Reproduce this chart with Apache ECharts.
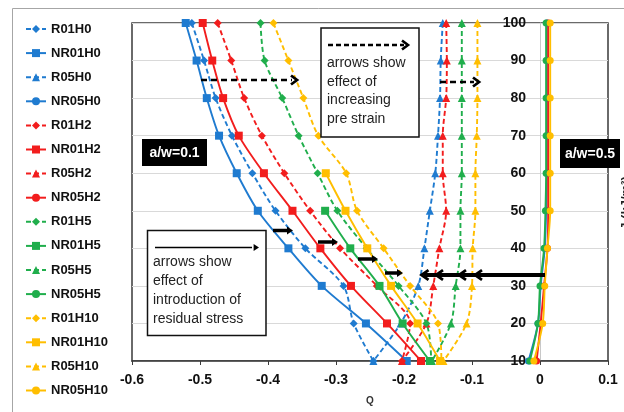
<!DOCTYPE html>
<html><head><meta charset="utf-8">
<script src="https://cdn.jsdelivr.net/npm/echarts@6/dist/echarts.min.js"></script>
<style>html,body{margin:0;padding:0;background:#fff}#c{width:624px;height:412px}</style>
</head><body><div id="c"></div>
<script>
// y levels (top to bottom)
const yLevels = [100, 90, 80, 70, 60, 50, 40, 30, 20, 10];
// Q values per series at each y level (null = no point)
const R01H0   = [-0.512, -0.494, -0.477, -0.453, -0.423, -0.389, -0.345, -0.289, -0.274, -0.245];
const NR01H0  = [-0.521, -0.505, -0.490, -0.472, -0.446, -0.415, -0.370, -0.321, -0.256, -0.196];
const R05H0   = [-0.143, -0.146, -0.147, -0.150, -0.154, -0.162, -0.170, -0.179, -0.205, -0.245];
const NR05H0  = [0.010, 0.010, 0.010, 0.010, 0.010, 0.009, 0.007, 0.001, -0.003, -0.017];
const R01H2   = [-0.474, -0.454, -0.435, -0.409, -0.376, -0.338, -0.294, -0.240, -0.191, -0.203];
const NR01H2  = [-0.496, -0.482, -0.466, -0.443, -0.406, -0.364, -0.323, -0.278, -0.225, -0.175];
const R05H2   = [-0.138, -0.137, -0.138, -0.143, -0.143, -0.138, -0.148, -0.157, -0.167, -0.203];
const NR05H2  = [0.012, 0.012, 0.012, 0.012, 0.012, 0.012, 0.011, 0.006, 0.001, -0.005];
const R01H5   = [-0.411, -0.405, -0.379, -0.355, -0.327, -0.298, -0.255, -0.208, -0.167, -0.160];
const NR01H5  = [null, null, null, null, null, -0.316, -0.279, -0.236, -0.202, -0.162];
const R05H5   = [-0.115, -0.115, -0.115, -0.115, -0.115, -0.117, -0.117, -0.124, -0.131, -0.159];
const NR05H5  = [0.009, 0.009, 0.009, 0.009, 0.009, 0.008, 0.006, 0.000, -0.003, -0.015];
const R01H10  = [-0.392, -0.370, -0.348, -0.326, -0.285, -0.269, -0.230, -0.191, -0.150, -0.145];
const NR01H10 = [null, null, null, null, -0.315, -0.286, -0.254, -0.219, -0.180, -0.147];
const R05H10  = [-0.092, -0.092, -0.092, -0.093, -0.095, -0.095, -0.099, -0.100, -0.108, -0.142];
const NR05H10 = [0.015, 0.015, 0.015, 0.015, 0.015, 0.015, 0.011, 0.007, 0.004, -0.009];

const seriesNames = ['R01H0','NR01H0','R05H0','NR05H0','R01H2','NR01H2','R05H2','NR05H2',
                     'R01H5','NR01H5','R05H5','NR05H5','R01H10','NR01H10','R05H10','NR05H10'];
const seriesValues = [R01H0,NR01H0,R05H0,NR05H0,R01H2,NR01H2,R05H2,NR05H2,
                      R01H5,NR01H5,R05H5,NR05H5,R01H10,NR01H10,R05H10,NR05H10];

const FONT = "'Liberation Sans', Arial, sans-serif";
const colorFor = {H0:'#1f7bd0', H2:'#f21d1d', H5:'#20ae4c', H10:'#ffbe00'};

function styleFor(name){
  const h = name.match(/H\d+$/)[0];
  const dashed = name[0] === 'R';
  const a = name.indexOf('05') >= 0 ? '05' : '01';
  let symbol, size;
  if (dashed && a === '01') { symbol = 'diamond'; size = 8; }
  else if (!dashed && a === '01') { symbol = 'rect'; size = 8; }
  else if (dashed && a === '05') { symbol = 'triangle'; size = 8; }
  else { symbol = 'circle'; size = 7; }
  return {color: colorFor[h], dashed, symbol, size};
}

const series = seriesNames.map((name, i) => {
  const st = styleFor(name);
  const data = [];
  seriesValues[i].forEach((v, k) => { if (v !== null) data.push([v, yLevels[k]]); });
  return {
    name, type:'line', data, smooth:0.3,
    symbol: st.symbol, symbolSize: st.size, showSymbol:true,
    itemStyle:{color: st.color},
    lineStyle:{color: st.color, width:1.9, type: st.dashed ? [5,3] : 'solid'},
    emphasis:{disabled:true}, animation:false
  };
});

// ---- annotation graphics ----
const graphic = [];
graphic.push({type:'rect', shape:{x:12.5, y:8.5, width:700, height:500}, style:{fill:'none', stroke:'#a6a6a6', lineWidth:1}, z:0, silent:true});

function box(x, y, w, h){
  graphic.push({type:'rect', shape:{x, y, width:w, height:h}, style:{fill:'#fff', stroke:'#111', lineWidth:1.5}, z:50});
}
function text(x, y, t, opts){
  graphic.push(Object.assign({type:'text', x, y, style:Object.assign({text:t, fill:'#222', font:'14px '+FONT, textVerticalAlign:'middle'}, opts||{}), z:60}));
}
function line(x1, y1, x2, y2, w, dash){
  graphic.push({type:'line', shape:{x1, y1, x2, y2}, style:{stroke:'#000', lineWidth:w, lineDash: dash || null}, z:55});
}
function chevronRight(x, y, s, w){
  graphic.push({type:'polyline', shape:{points:[[x-s, y-s*0.75],[x, y],[x-s, y+s*0.75]]}, style:{stroke:'#000', lineWidth:w, fill:'none'}, z:55});
}
function chevronLeft(x, y, s, w){
  graphic.push({type:'polyline', shape:{points:[[x+s, y-s*0.7],[x, y],[x+s, y+s*0.7]]}, style:{stroke:'#000', lineWidth:w, fill:'none'}, z:56});
}
function solidHead(x, y, s){
  graphic.push({type:'polygon', shape:{points:[[x, y],[x-s*1.2, y-s*0.8],[x-s*1.2, y+s*0.8]]}, style:{fill:'#000'}, z:56});
}

// box 1: pre strain
box(321, 28, 98, 109);
line(328, 45, 404, 45, 2.4, [5,3]);
chevronRight(408, 45, 6, 2.6);
text(327, 63, 'arrows show');
text(327, 82, 'effect of');
text(327, 100, 'increasing');
text(327, 119, 'pre strain');

// box 2: residual stress
box(147.5, 230.5, 118.5, 105);
line(155, 247.5, 252, 247.5, 1.5);
solidHead(259, 247.5, 4.5);
text(153, 262, 'arrows show');
text(153, 281, 'effect of');
text(153, 300, 'introduction of');
text(153, 319, 'residual stress');

// dashed arrows
line(201, 80, 292, 80, 2.6, [6,4]);
chevronRight(297, 80, 6, 2.8);
line(440, 82, 474, 82, 2.6, [6,4]);
chevronRight(479, 82, 6, 2.8);

// short solid arrows
[[273,293,230.5],[318,338,242],[358,378,259],[385,403,273]].forEach(a => {
  line(a[0], a[2], a[1]-5, a[2], 3.5);
  solidHead(a[1], a[2], 5);
});

// big left arrow
line(545, 275, 424, 275, 4);
[421.5, 436, 459, 475].forEach(x => chevronLeft(x, 275, 7, 2.8));

// a/w labels
graphic.push({type:'rect', shape:{x:142, y:139, width:65, height:27}, style:{fill:'#000'}, z:50});
text(174.5, 153, 'a/w=0.1', {fill:'#fff', font:'bold 14px '+FONT, textAlign:'center'});
graphic.push({type:'rect', shape:{x:560, y:139, width:60, height:29}, style:{fill:'#000'}, z:50});
text(590, 154, 'a/w=0.5', {fill:'#fff', font:'bold 14px '+FONT, textAlign:'center'});

// axis titles
text(370, 401, 'Q', {font:'bold 10px '+FONT, textAlign:'center', fill:'#333'});
graphic.push({type:'text', x:626, y:203, rotation:Math.PI/2,
  style:{text:'J (kJ/m²)', font:'bold 13px '+FONT, fill:'#222', textAlign:'center', textVerticalAlign:'middle'}, z:60});

const chart = echarts.init(document.getElementById('c'), null, {renderer:'canvas'});
chart.setOption({
  backgroundColor:'#fff',
  animation:false,
  grid:{left:132, right:16, top:23, bottom:51, show:true, borderColor:'#3a3a3a', borderWidth:1.5, containLabel:false},
  legend:{
    orient:'vertical', left:20, top:17, itemWidth:20, itemHeight:10, itemGap:10.1,
    data: seriesNames, selectedMode:false,
    textStyle:{fontFamily:FONT, fontWeight:'bold', fontSize:13, color:'#111', lineHeight:14}
  },
  xAxis:{
    type:'value', min:-0.6, max:0.1, interval:0.1,
    axisLine:{lineStyle:{color:'#3a3a3a', width:1.5}},
    axisTick:{show:true, length:4, lineStyle:{color:'#3a3a3a'}},
    axisLabel:{fontFamily:FONT, fontWeight:'bold', fontSize:14, color:'#111', margin:12},
    splitLine:{show:false}
  },
  yAxis:{
    type:'value', min:10, max:100, interval:10, position:'left', offset:-408,
    axisLine:{show:true, onZero:false, lineStyle:{color:'#c8c8c8', width:1}},
    axisTick:{show:false},
    axisLabel:{fontFamily:FONT, fontWeight:'bold', fontSize:14, color:'#111', margin:14},
    splitLine:{show:true, lineStyle:{color:'#d9d9d9', width:1}}
  },
  series,
  graphic
});
</script></body></html>
